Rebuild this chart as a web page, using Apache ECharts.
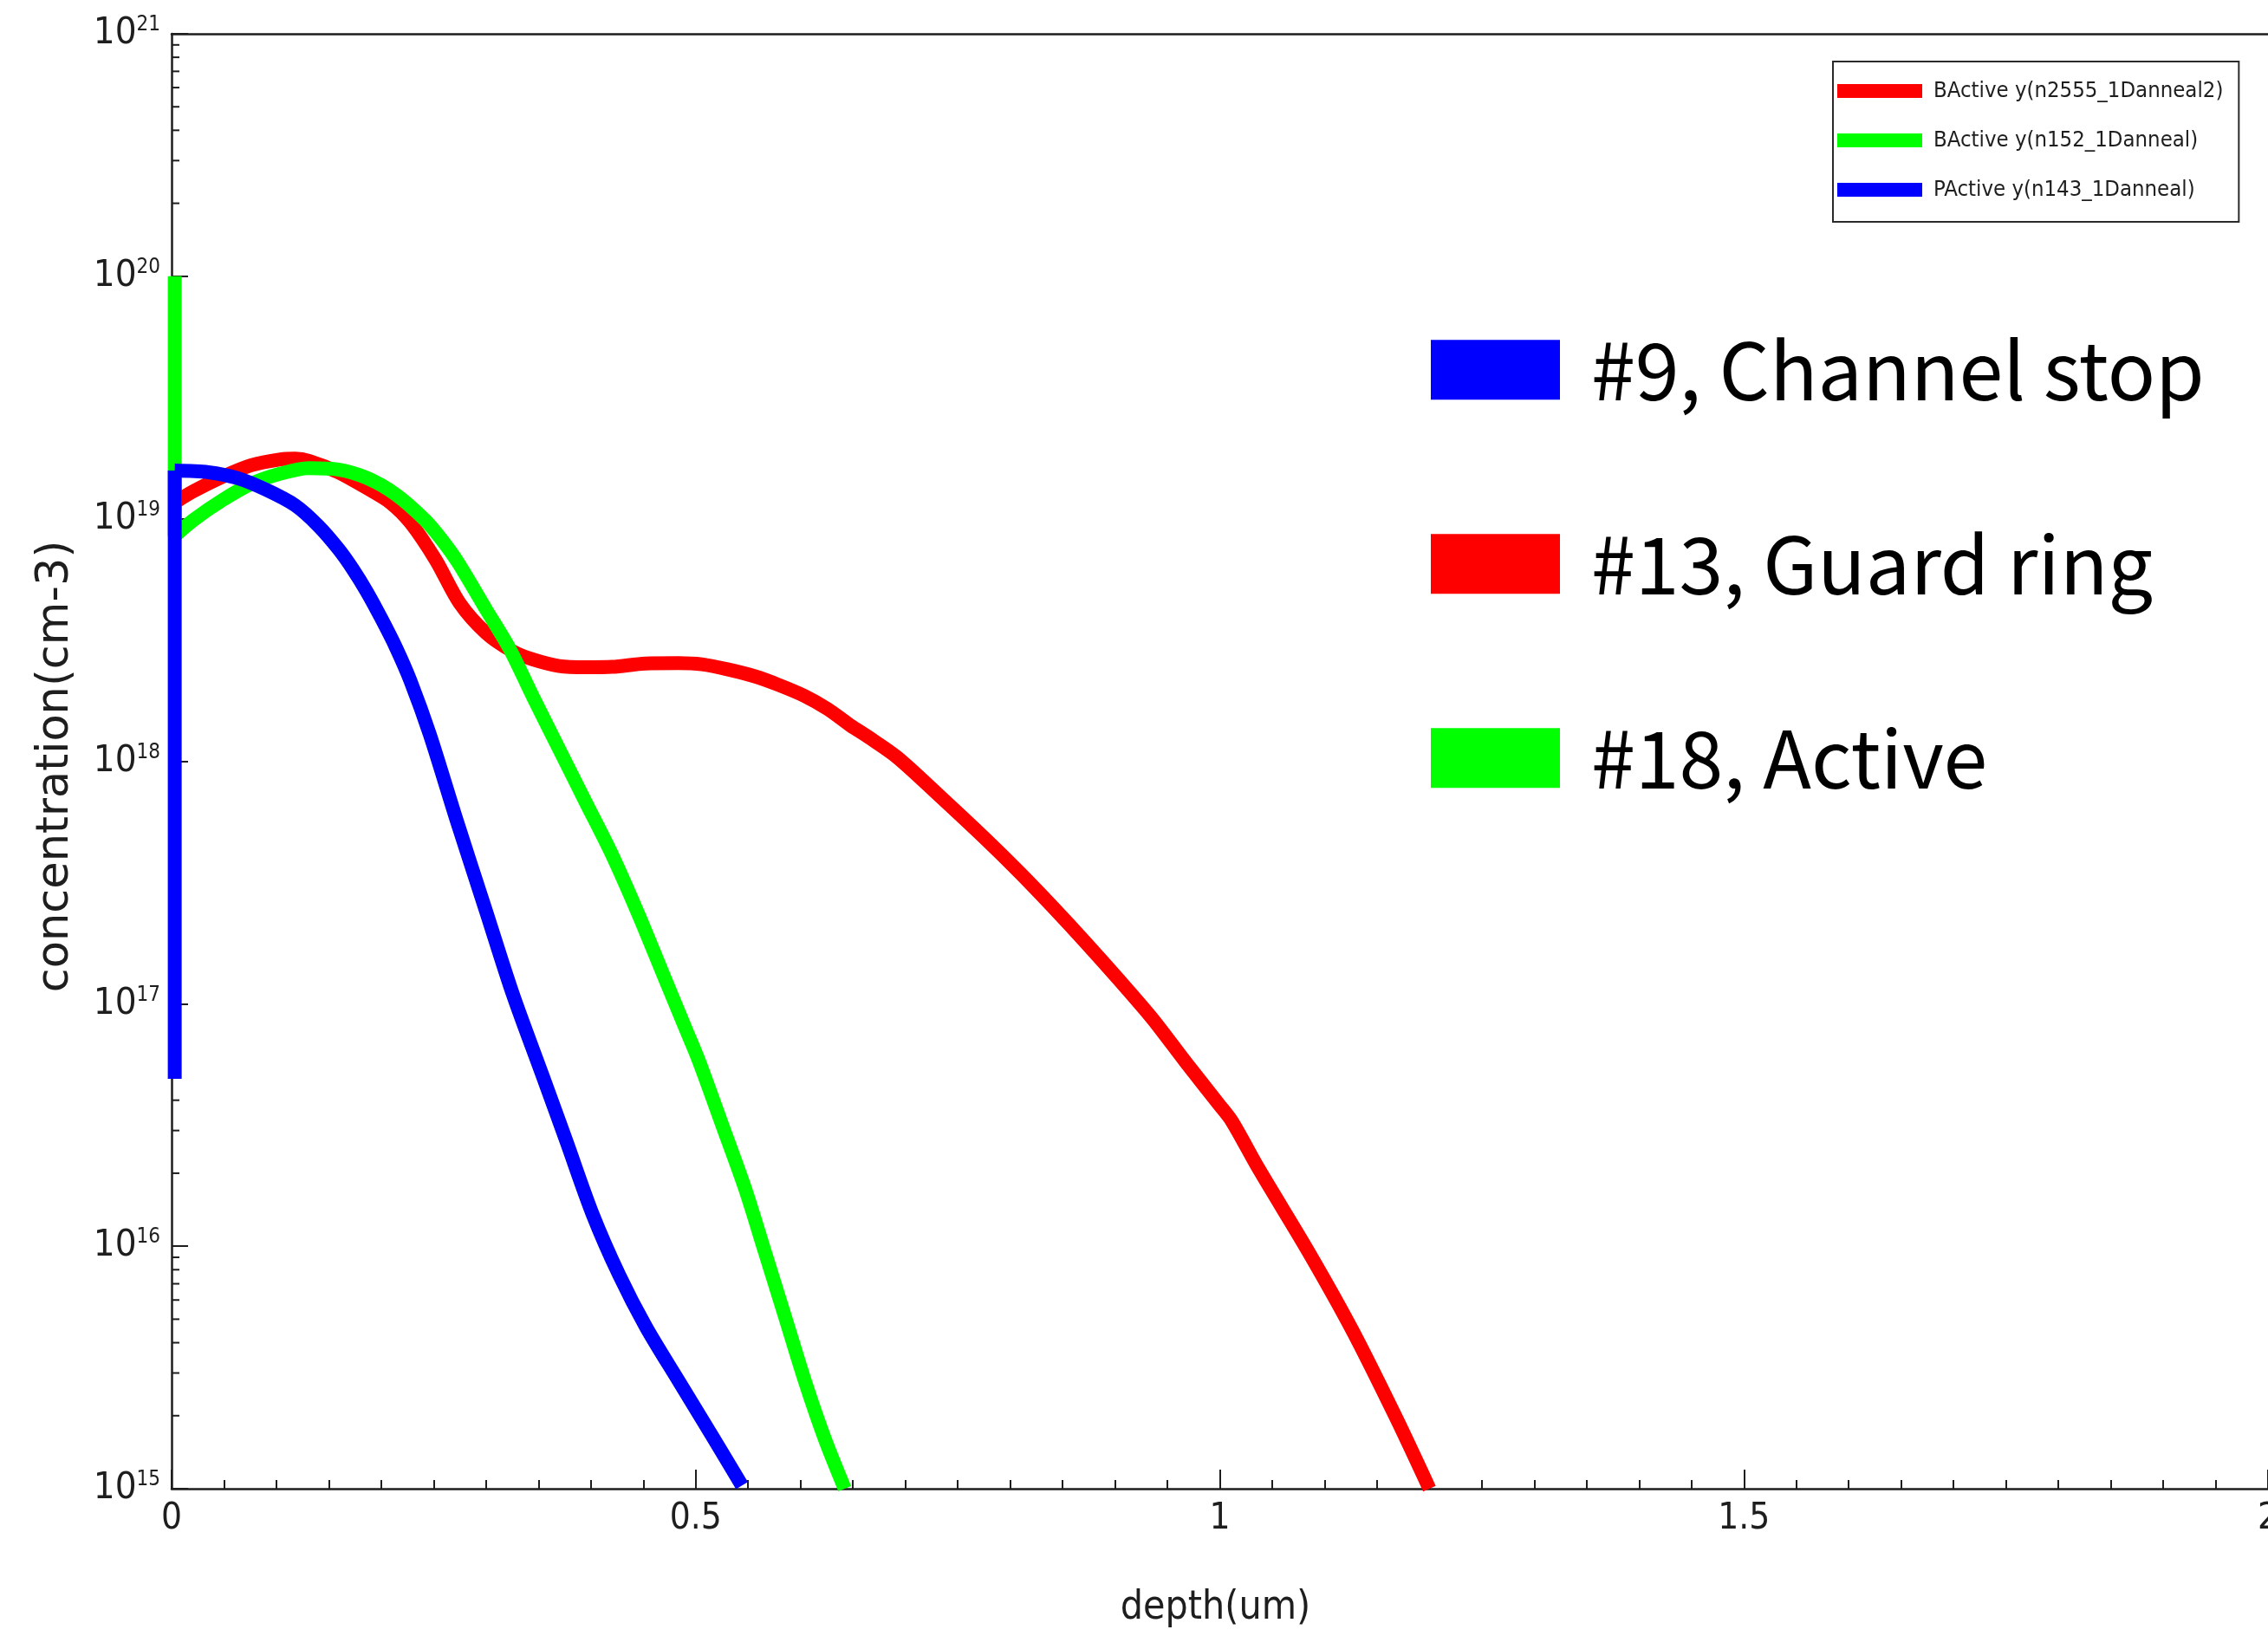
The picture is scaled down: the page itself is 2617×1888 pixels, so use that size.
<!DOCTYPE html>
<html>
<head>
<meta charset="utf-8">
<title>Doping profiles</title>
<script src="https://cdn.jsdelivr.net/npm/echarts@6/dist/echarts.min.js"></script>
<style>
  html, body { margin: 0; padding: 0; background: #ffffff; }
  #chart { width: 2617px; height: 1888px; }
</style>
</head>
<body>
<div id="chart"></div>
<script>
// Depth (um) and active concentration (cm^-3) along each 1D anneal cut
const guardRingDepth = [0.003, 0.021, 0.049, 0.076, 0.104, 0.118, 0.131, 0.159, 0.1865, 0.2086, 0.228, 0.252,
  0.2748, 0.3001, 0.3255, 0.3444, 0.3697, 0.395, 0.4204, 0.452, 0.4836, 0.5058, 0.5311, 0.5564, 0.5785,
  0.6038, 0.6261, 0.6481, 0.6633, 0.692, 0.7341, 0.7776, 0.8092, 0.8409, 0.8725, 0.9042, 0.9358, 0.9674,
  0.9991, 1.0117, 1.037, 1.085, 1.1266, 1.168, 1.2];
const guardRingConc = [1.167e19, 1.30e19, 1.493e19, 1.663e19, 1.758e19, 1.770e19, 1.734e19, 1.556e19, 1.337e19,
  1.167e19, 9.62e18, 6.76e18, 4.49e18, 3.38e18, 2.84e18, 2.63e18, 2.47e18, 2.44e18, 2.45e18, 2.53e18, 2.54e18,
  2.51e18, 2.39e18, 2.24e18, 2.07e18, 1.86e18, 1.64e18, 1.40e18, 1.27e18, 1.04e18, 7.10e17, 4.73e17, 3.47e17,
  2.50e17, 1.78e17, 1.25e17, 8.67e16, 5.75e16, 3.85e16, 3.27e16, 2.09e16, 9.42e15, 4.49e15, 1.97e15, 1.0e15];

// vertical jump at the surface, then the diffused profile
const activeSurfaceDepth = [0.003, 0.003];
const activeSurfaceConc = [1.0e20, 8.5e18];
const activeDepth = [0.003, 0.021, 0.049, 0.076, 0.104, 0.131, 0.159, 0.1865, 0.214, 0.2417, 0.2575,
  0.2732, 0.3001, 0.3223, 0.3444, 0.3697, 0.395, 0.4204, 0.4457, 0.4678, 0.490, 0.503, 0.5252, 0.5473,
  0.5663, 0.5853, 0.6043, 0.6233, 0.6422];
const activeConc = [8.5e18, 9.89e18, 1.197e19, 1.393e19, 1.535e19, 1.618e19, 1.596e19, 1.472e19,
  1.259e19, 9.89e18, 8.22e18, 6.61e18, 4.22e18, 2.92e18, 1.858e18, 1.122e18, 6.79e17, 4.10e17, 2.32e17,
  1.36e17, 7.96e16, 5.82e16, 3.17e16, 1.72e16, 9.38e15, 5.11e15, 2.77e15, 1.60e15, 1.0e15];

const channelStopSurfaceDepth = [0.003, 0.003];
const channelStopSurfaceConc = [4.9e16, 1.58e19];
const channelStopDepth = [0.003, 0.035, 0.0625, 0.090, 0.118, 0.140, 0.159, 0.173, 0.1865, 0.200, 0.214,
  0.228, 0.2464, 0.2717, 0.3001, 0.3255, 0.3543, 0.3765, 0.4018, 0.4271, 0.4524, 0.484, 0.5157, 0.5441];
const channelStopConc = [1.58e19, 1.556e19, 1.472e19, 1.318e19, 1.135e19, 9.35e18, 7.52e18, 6.19e18,
  4.98e18, 3.89e18, 2.95e18, 2.14e18, 1.288e18, 5.75e17, 2.40e17, 1.096e17, 5.0e16, 2.72e16, 1.35e16,
  7.59e15, 4.66e15, 2.77e15, 1.65e15, 1.03e15];

const seriesNames = ['BActive y(n2555_1Danneal2)', 'BActive y(n152_1Danneal)', 'PActive y(n143_1Danneal)'];
const regionNames = ['#9, Channel stop', '#13, Guard ring', '#18, Active'];

// Axis ticks: depth labels and the decades of the log axis
const depthTickLabels = ['0', '0.5', '1', '1.5', '2'];
const decadeExponents = [15, 16, 17, 18, 19, 20, 21];
const minorMantissas = [2, 3, 4, 5, 6, 7, 8, 9];

const RED = '#ff0000', GREEN = '#00ff00', BLUE = '#0000ff';
const AXIS = '#1e1e1e';
const CONDENSED = "'DejaVu Sans Condensed', 'DejaVu Sans', sans-serif";

function pairs(xs, ys) { return xs.map((x, i) => [x, ys[i]]); }

// log-axis minor tick values (2..9 x 10^n) inside every decade
const minorTickValues = [];
decadeExponents.slice(0, -1).forEach(e => minorMantissas.forEach(m => minorTickValues.push([0, m * Math.pow(10, e)])));

const chart = echarts.init(document.getElementById('chart'), null, { renderer: 'canvas' });

const LINE_W = 16;
const lineSeries = (name, color, data, z, smooth) => ({
  name, type: 'line', data, z,
  showSymbol: false, symbol: 'none', smooth: smooth || false, animation: false,
  color,
  itemStyle: { color },
  lineStyle: { color, width: LINE_W, cap: 'butt', join: 'round' }
});

const option = {
  backgroundColor: '#ffffff',
  animation: false,
  grid: {
    left: 198, right: 0, top: 39, bottom: 170,
    containLabel: false, outerBoundsMode: 'none'
  },
  legend: [
    {
      data: seriesNames,
      orient: 'vertical', left: 2115, top: 71,
      icon: 'rect', itemWidth: 98, itemHeight: 16, itemGap: 27,
      padding: [19, 18, 22, 5],
      borderColor: '#2a2a2a', borderWidth: 2, backgroundColor: '#ffffff',
      itemStyle: { borderWidth: 0 },
      textStyle: { fontFamily: CONDENSED, fontSize: 25.5, color: '#1e1e1e', lineHeight: 30, padding: [0, 0, 0, 8] },
      selectedMode: false
    },
    {
      data: regionNames,
      orient: 'vertical', left: 1651, top: 381,
      icon: 'rect', itemWidth: 149, itemHeight: 69, itemGap: 132.5,
      padding: 0,
      itemStyle: { borderWidth: 0 },
      textStyle: { fontFamily: "'Noto Sans CJK KR', 'Noto Sans', sans-serif", fontSize: 91.5, color: '#000000', padding: [0, 0, 0, 31] },
      selectedMode: false
    }
  ],
  xAxis: [
    {
      type: 'value', position: 'bottom', min: 0, max: 2, interval: 0.5,
      name: 'depth(um)', nameLocation: 'middle', nameGap: 138,
      nameTextStyle: { fontFamily: CONDENSED, fontSize: 46, color: '#1e1e1e', verticalAlign: 'middle', padding: [0, 10, 0, 0] },
      axisLine: { show: true, onZero: false, lineStyle: { color: AXIS, width: 2.5 } },
      axisTick: { show: true, inside: true, length: 22, lineStyle: { color: AXIS, width: 2 } },
      minorTick: { show: true, splitNumber: 10, length: 10, lineStyle: { color: AXIS, width: 2 } },
      splitLine: { show: false },
      axisLabel: {
        fontFamily: CONDENSED, fontSize: 42, color: '#1e1e1e', margin: 10, lineHeight: 50,
        showMinLabel: true, showMaxLabel: true, hideOverlap: false,
        formatter: v => depthTickLabels[Math.round(v / 0.5)]
      }
    },
    {
      type: 'value', position: 'top', min: 0, max: 2,
      axisLine: { show: true, onZero: false, lineStyle: { color: AXIS, width: 2.5 } },
      axisTick: { show: false }, axisLabel: { show: false }, splitLine: { show: false }
    }
  ],
  yAxis: {
    type: 'log', logBase: 10, min: 1e15, max: 1e21, splitNumber: 6,
    name: 'concentration(cm-3)', nameLocation: 'middle', nameGap: 133, nameRotate: 90,
    nameTextStyle: { fontFamily: "'DejaVu Sans', sans-serif", fontSize: 51, color: '#1e1e1e', verticalAlign: 'middle', padding: [0, 12, 0, 0] },
    axisLine: { show: true, onZero: false, lineStyle: { color: AXIS, width: 2.5 } },
    axisTick: { show: true, inside: true, length: 19, lineStyle: { color: AXIS, width: 2 } },
    minorTick: { show: false },
    splitLine: { show: false },
    axisLabel: {
      margin: 13, showMinLabel: true, showMaxLabel: true, hideOverlap: false,
      formatter: v => '{b|10}{s|' + Math.round(Math.log10(v)) + '}',
      rich: {
        b: { fontFamily: CONDENSED, fontSize: 43.5, color: '#1e1e1e', lineHeight: 44, verticalAlign: 'bottom' },
        s: { fontFamily: CONDENSED, fontSize: 24, color: '#1e1e1e', lineHeight: 16, verticalAlign: 'top' }
      }
    }
  },
  series: [
    {
      type: 'custom', coordinateSystem: 'cartesian2d', silent: true, z: 1, animation: false,
      data: minorTickValues,
      renderItem: (params, api) => {
        const p = api.coord([0, api.value(1)]);
        return {
          type: 'line',
          shape: { x1: p[0], y1: p[1], x2: p[0] + 9, y2: p[1] },
          style: { stroke: AXIS, lineWidth: 2 }
        };
      }
    },
    lineSeries(seriesNames[0], RED, pairs(guardRingDepth, guardRingConc), 3, 0.3),
    lineSeries(seriesNames[1], GREEN, pairs(activeSurfaceDepth, activeSurfaceConc), 4),
    lineSeries(seriesNames[1], GREEN, pairs(activeDepth, activeConc), 4, 0.3),
    lineSeries(seriesNames[2], BLUE, pairs(channelStopSurfaceDepth, channelStopSurfaceConc), 5),
    lineSeries(seriesNames[2], BLUE, pairs(channelStopDepth, channelStopConc), 5, 0.3),
    // region key entries (colour swatches only)
    lineSeries(regionNames[0], BLUE, [], 2),
    lineSeries(regionNames[1], RED, [], 2),
    lineSeries(regionNames[2], GREEN, [], 2)
  ]
};

chart.setOption(option);
</script>
</body>
</html>
